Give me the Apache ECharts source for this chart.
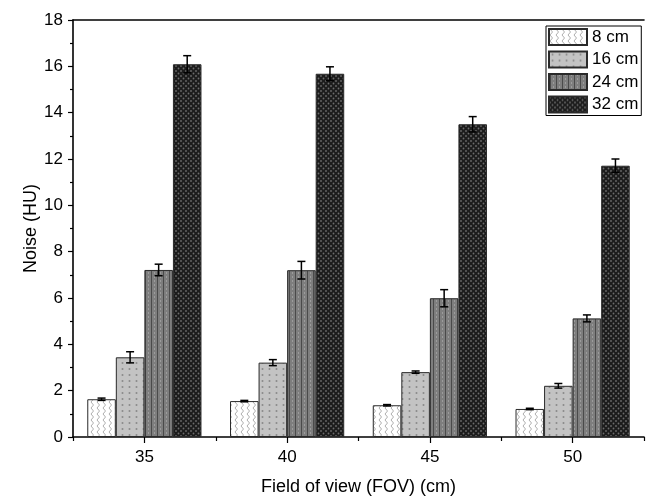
<!DOCTYPE html>
<html>
<head>
<meta charset="utf-8">
<script src="https://cdn.jsdelivr.net/npm/echarts@6/dist/echarts.min.js"></script>
<style>
html, body { margin: 0; padding: 0; background: #fff; }
#chart { width: 648px; height: 499px; }
</style>
</head>
<body>
<div id="chart"></div>
<script>
var fovLabels = ['35', '40', '45', '50'];
var phantomNames = ['8 cm', '16 cm', '24 cm', '32 cm'];

var noise8 = [1.63, 1.55, 1.37, 1.21];
var noise16 = [3.44, 3.21, 2.80, 2.21];
var noise24 = [7.21, 7.20, 5.99, 5.12];
var noise32 = [16.09, 15.68, 13.50, 11.71];

var err8 = [0.05, 0.03, 0.03, 0.03];
var err16 = [0.24, 0.13, 0.05, 0.10];
var err24 = [0.25, 0.38, 0.37, 0.15];
var err32 = [0.37, 0.30, 0.33, 0.29];

var allNoise = [noise8, noise16, noise24, noise32];
var allErr = [err8, err16, err24, err32];

const FONT = 'Liberation Sans';
const GAP = 0.2;

// small canvas tiles to mimic the Origin fill patterns
function makePattern(w, h, bg, draw) {
  var c = document.createElement('canvas');
  c.width = w; c.height = h;
  var ctx = c.getContext('2d');
  ctx.fillStyle = bg;
  ctx.fillRect(0, 0, w, h);
  draw(ctx);
  return { image: c, repeat: 'repeat' };
}

var fills = [
  makePattern(6, 6, '#ffffff', function (ctx) {
    ctx.strokeStyle = '#9a9a9a';
    ctx.lineWidth = 0.8;
    ctx.beginPath();
    ctx.moveTo(1, 0); ctx.lineTo(3.5, 3); ctx.lineTo(1, 6);
    ctx.stroke();
  }),
  makePattern(7, 6, '#c3c3c3', function (ctx) {
    ctx.fillStyle = '#8a8a8a';
    ctx.beginPath();
    ctx.arc(3.5, 3, 1, 0, Math.PI * 2);
    ctx.fill();
  }),
  makePattern(6, 4, '#7e7e7e', function (ctx) {
    ctx.fillStyle = '#4a4a4a';
    ctx.fillRect(1, 0, 1, 4);
    ctx.fillStyle = '#9c9c9c';
    ctx.fillRect(4, 0, 1, 2);
  }),
  makePattern(5, 5, '#1c1c1c', function (ctx) {
    ctx.fillStyle = '#6c6c6c';
    ctx.beginPath();
    ctx.arc(1, 1, 0.9, 0, Math.PI * 2);
    ctx.arc(3.5, 3.5, 0.9, 0, Math.PI * 2);
    ctx.fill();
  })
];

function errorRenderer(k) {
  return function (params, api) {
    var ci = api.value(0), v = api.value(1), e = api.value(2);
    var band = api.size([1, 0])[0];
    var barW = band * (1 - GAP) / 4;
    var cx = api.coord([ci, 0])[0] - band * (1 - GAP) / 2 + barW * (k + 0.5);
    var yt = api.coord([ci, v + e])[1];
    var yb = api.coord([ci, v - e])[1];
    var st = { stroke: '#000', lineWidth: 1.5 };
    return {
      type: 'group',
      children: [
        { type: 'line', shape: { x1: cx, y1: yt, x2: cx, y2: yb }, style: st },
        { type: 'line', shape: { x1: cx - 4, y1: yt, x2: cx + 4, y2: yt }, style: st },
        { type: 'line', shape: { x1: cx - 4, y1: yb, x2: cx + 4, y2: yb }, style: st }
      ]
    };
  };
}

var series = [];
phantomNames.forEach(function (name, k) {
  series.push({
    name: name,
    type: 'bar',
    xAxisIndex: 0,
    barGap: 0,
    barCategoryGap: (GAP * 100) + '%',
    data: allNoise[k],
    itemStyle: { color: fills[k], borderColor: '#2a2a2a', borderWidth: 1 },
    emphasis: { disabled: true }
  });
});
phantomNames.forEach(function (name, k) {
  series.push({
    type: 'custom',
    xAxisIndex: 0,
    z: 5,
    renderItem: errorRenderer(k),
    encode: { x: 0, y: 1 },
    data: allNoise[k].map(function (v, i) { return [i, v, allErr[k][i]]; })
  });
});

var axisLine = { show: true, lineStyle: { color: '#000', width: 1.6 } };
var labelText = { fontFamily: FONT, fontSize: 17, color: '#000' };
var nameText = { fontFamily: FONT, fontSize: 18, color: '#000' };

var option = {
  animation: false,
  backgroundColor: '#fff',
  grid: { left: 73, right: 4, top: 20, bottom: 62, outerBoundsMode: 'none' },
  legend: {
    orient: 'vertical',
    left: 546,
    top: 26,
    data: phantomNames,
    icon: 'rect',
    itemWidth: 38,
    itemHeight: 16,
    itemGap: 4.5,
    padding: [2, 3, 2, 2],
    borderColor: '#000',
    borderWidth: 1,
    textStyle: { fontFamily: FONT, fontSize: 17, color: '#000' }
  },
  xAxis: [
    {
      type: 'category',
      data: fovLabels,
      position: 'bottom',
      axisLine: axisLine,
      axisTick: { show: true, length: 4, lineStyle: { color: '#000', width: 1.2 } },
      axisLabel: Object.assign({ margin: 12 }, labelText),
      name: 'Field of view (FOV) (cm)',
      nameLocation: 'middle',
      nameGap: 41,
      nameTextStyle: nameText,
      splitLine: { show: false }
    },
    {
      type: 'category',
      data: fovLabels,
      position: 'bottom',
      axisLine: { show: false },
      axisTick: { show: true, alignWithLabel: true, length: 6, lineStyle: { color: '#000', width: 1.2 } },
      axisLabel: { show: false },
      splitLine: { show: false }
    },
    {
      type: 'category',
      data: fovLabels,
      position: 'top',
      axisLine: axisLine,
      axisTick: { show: false },
      axisLabel: { show: false },
      splitLine: { show: false }
    }
  ],
  yAxis: {
    type: 'value',
    min: 0,
    max: 18,
    interval: 2,
    axisLine: axisLine,
    axisTick: { show: true, length: 5, lineStyle: { color: '#000', width: 1.2 } },
    minorTick: { show: true, splitNumber: 2, length: 3, lineStyle: { color: '#000', width: 1.2 } },
    axisLabel: Object.assign({ margin: 10 }, labelText),
    splitLine: { show: false },
    name: 'Noise (HU)',
    nameLocation: 'middle',
    nameGap: 33,
    nameMoveOverlap: false,
    nameTextStyle: nameText
  },
  series: series
};

var chart = echarts.init(document.getElementById('chart'), null, { renderer: 'canvas' });
chart.setOption(option);
</script>
</body>
</html>
